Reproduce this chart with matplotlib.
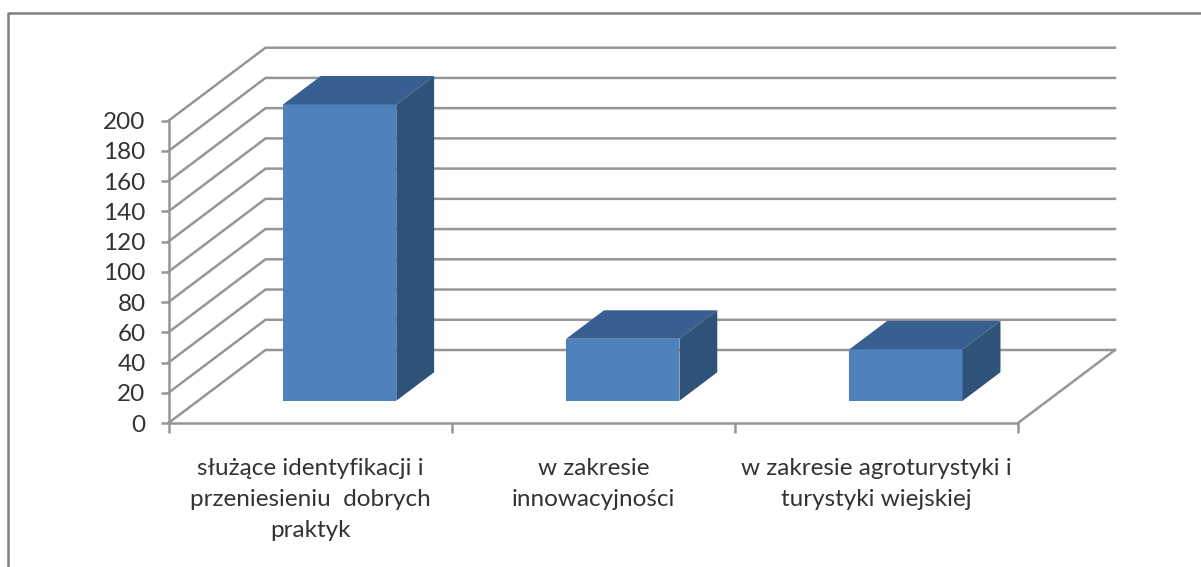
import matplotlib
matplotlib.use("Agg")
import matplotlib.pyplot as plt
from matplotlib.patches import Polygon

plt.rcParams['font.family'] = ['Lato', 'DejaVu Sans']

categories = ["służące identyfikacji i\nprzeniesieniu  dobrych\npraktyk",
              "w zakresie\ninnowacyjności",
              "w zakresie agroturystyki i\nturystyki wiejskiej"]
values = [196, 41, 34]
y_ticks = list(range(0, 201, 20))

W, H = 1201, 567
FRONT = '#4F81BD'
TOP = '#385F90'
SIDE = '#2F5279'
GRID = '#969696'
TEXT = '#333333'

# plot area is the front plane of the fake 3d box
left, right, bottom, top = 168.5, 1018, 423, 120.7
fig = plt.figure(figsize=(W / 100, H / 100), dpi=100)
ax = fig.add_axes([left / W, 1 - bottom / H, (right - left) / W, (bottom - top) / H])
ax.set_xlim(0, 3)
ax.set_ylim(0, 200)
ax.patch.set_alpha(0)

# depth of the box in data units
dx_wall = 97 / ((right - left) / 3)
dy_wall = 73 / ((bottom - top) / 200)

for y in y_ticks:
    ax.plot([0, dx_wall, 3 + dx_wall], [y, y + dy_wall, y + dy_wall], color=GRID, lw=1.8,
            clip_on=False, zorder=1, solid_joinstyle='miter')
ax.plot([3, 3 + dx_wall], [0, dy_wall], color=GRID, lw=1.8, clip_on=False, zorder=1)

# bars sit between 30% and 70% of the depth
d0, d1 = 0.305, 0.695
bar_w = 0.4
for i, v in enumerate(values):
    x0 = i + 0.5 - bar_w / 2 + d0 * dx_wall
    x1 = x0 + bar_w
    y0 = d0 * dy_wall
    ddx = (d1 - d0) * dx_wall
    ddy = (d1 - d0) * dy_wall
    ax.bar(x0, v, bar_w, bottom=y0, align='edge', color=FRONT, zorder=3, clip_on=False)
    ax.add_patch(Polygon([(x0, y0 + v), (x1, y0 + v), (x1 + ddx, y0 + v + ddy), (x0 + ddx, y0 + v + ddy)],
                         closed=True, color=TOP, lw=0, clip_on=False, zorder=3))
    ax.add_patch(Polygon([(x1, y0), (x1 + ddx, y0 + ddy), (x1 + ddx, y0 + v + ddy), (x1, y0 + v)],
                         closed=True, color=SIDE, lw=0, clip_on=False, zorder=3))

for s in ['top', 'right']:
    ax.spines[s].set_visible(False)
for s in ['left', 'bottom']:
    ax.spines[s].set_color(GRID)
    ax.spines[s].set_linewidth(1.8)

ax.set_yticks(y_ticks)
ax.tick_params(axis='y', length=5.5, width=1.8, color=GRID, labelcolor=TEXT, labelsize=17.5, pad=11)
ax.set_xticks([0, 1, 2, 3])
ax.set_xticklabels([])
ax.tick_params(axis='x', length=7, width=1.8, color=GRID)

for i, label in enumerate(categories):
    ax.annotate(label, xy=(i + 0.5, 0), xytext=(0, -25), textcoords='offset points', ha='center', va='top',
                fontsize=17.5, color=TEXT, linespacing=1.6)

# frame around the chart
fig.add_artist(plt.Line2D([7.5 / W, 7.5 / W, 1], [0, 1 - 12.5 / H, 1 - 12.5 / H], color='#808080', lw=1.8))

fig.savefig("out.png", dpi=100)
